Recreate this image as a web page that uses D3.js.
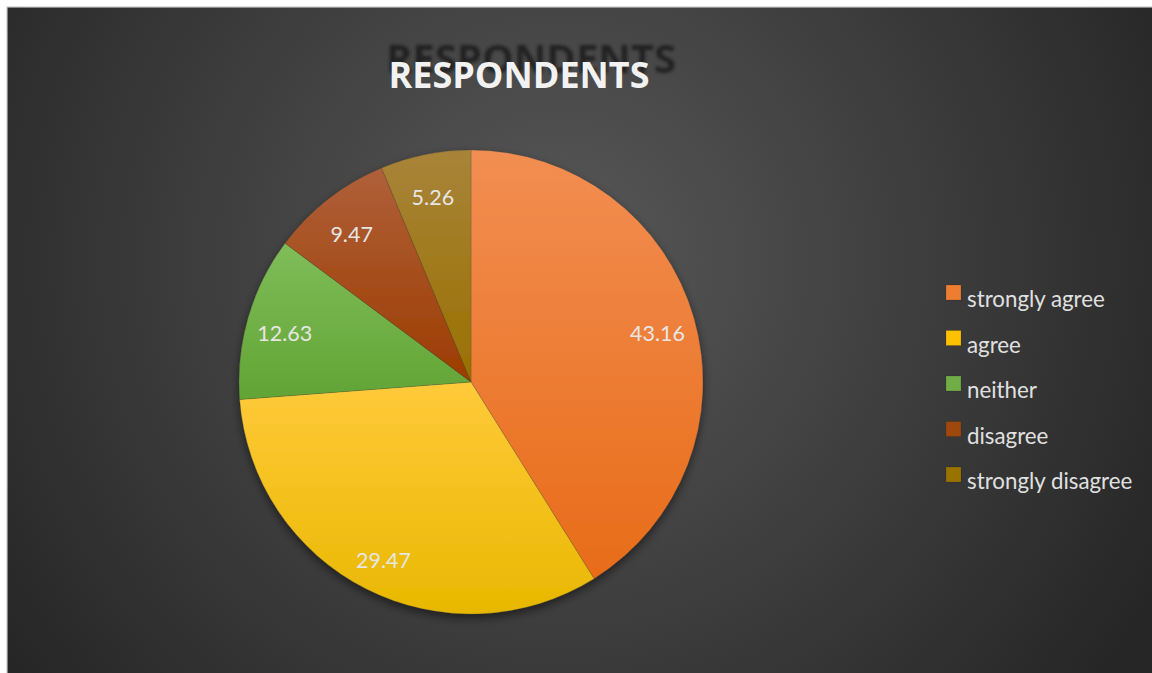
<!DOCTYPE html>
<html><head><meta charset="utf-8">
<script src="https://cdn.jsdelivr.net/npm/d3@7"></script>
<style>html,body{margin:0;padding:0;background:#fff;overflow:hidden}</style>
</head><body>
<svg id="c" width="1152" height="673"></svg>
<script>
const categories = ["strongly agree", "agree", "neither", "disagree", "strongly disagree"];
// slice sizes (percent of circle)
const values = [41.1, 32.7, 11.4, 8.5, 6.3];
// data-label texts shown in the reference
const labels = ["43.16", "29.47", "12.63", "9.47", "5.26"];
const colorsTop = ["#f28e52", "#ffca3a", "#7fbd58", "#b0603a", "#a8843a"];
const colorsBottom = ["#e86c18", "#e8b800", "#62a435", "#9c3c00", "#9a7000"];
const legendColors = ["#ed7d31", "#ffc000", "#70ad47", "#9e480e", "#997300"];

const svg = d3.select("#c");
const defs = svg.append("defs");
const bg = defs.append("radialGradient").attr("id", "bg")
  .attr("gradientUnits", "userSpaceOnUse").attr("cx", 560).attr("cy", 260).attr("r", 680);
bg.append("stop").attr("offset", 0).attr("stop-color", "#585858");
bg.append("stop").attr("offset", 1).attr("stop-color", "#262626");

const sh = defs.append("filter").attr("id", "sh").attr("x", "-20%").attr("y", "-20%").attr("width", "140%").attr("height", "140%");
sh.append("feDropShadow").attr("dx", 0).attr("dy", 4).attr("stdDeviation", 5).attr("flood-color", "#000").attr("flood-opacity", 0.5);
const blur = defs.append("filter").attr("id", "blur");
blur.append("feGaussianBlur").attr("stdDeviation", 1.6);

svg.append("rect").attr("x", 7).attr("y", 7).attr("width", 1160).attr("height", 680)
  .attr("fill", "url(#bg)").attr("stroke", "#c8c8c8").attr("stroke-width", 1.2);

// title with reflection shadow
svg.append("text").attr("x", 531).attr("y", 73).attr("text-anchor", "middle")
  .attr("font-family", "Open Sans, Lato, sans-serif").attr("font-weight", 700).attr("font-size", 40)
  .attr("fill", "#151515").attr("opacity", 0.75).attr("filter", "url(#blur)").text("RESPONDENTS");
svg.append("text").attr("x", 519).attr("y", 88).attr("text-anchor", "middle")
  .attr("font-family", "Open Sans, Lato, sans-serif").attr("font-weight", 700).attr("font-size", 36)
  .attr("fill", "#f2f2f2").text("RESPONDENTS");

const cx = 471, cy = 382, R = 232;
const pie = d3.pie().sort(null).value(d => d);
const arcs = pie(values);
const arc = d3.arc().innerRadius(0).outerRadius(R);
const labelArc = d3.arc().innerRadius(194).outerRadius(194);

arcs.forEach((a, i) => {
  const g = defs.append("linearGradient").attr("id", "g" + i).attr("x1", 0).attr("y1", 0).attr("x2", 0).attr("y2", 1);
  g.append("stop").attr("offset", 0).attr("stop-color", colorsTop[i]);
  g.append("stop").attr("offset", 1).attr("stop-color", colorsBottom[i]);
});

const gp = svg.append("g").attr("transform", `translate(${cx},${cy})`);
const shadowG = gp.append("g").attr("filter", "url(#sh)");
shadowG.selectAll("path").data(arcs).join("path")
  .attr("d", arc).attr("fill", (d, i) => `url(#g${i})`)
  .attr("stroke", "rgba(60,60,60,0.35)").attr("stroke-width", 0.6);

gp.selectAll("text.lbl").data(arcs).join("text").attr("class", "lbl")
  .attr("transform", d => `translate(${labelArc.centroid(d)})`)
  .attr("text-anchor", "middle").attr("dominant-baseline", "central").attr("dy", 5)
  .attr("font-family", "Lato, Open Sans, sans-serif").attr("font-size", 21.5)
  .attr("fill", "#e6e6e6").text((d, i) => labels[i]);

const lg = svg.append("g");
const rows = lg.selectAll("g").data(categories).join("g")
  .attr("transform", (d, i) => `translate(946, ${285 + i * 45.5})`);
rows.append("rect").attr("width", 15).attr("height", 15)
  .attr("fill", (d, i) => legendColors[i]).attr("stroke", "rgba(0,0,0,0.25)").attr("stroke-width", 0.5);
rows.append("text").attr("x", 21).attr("y", 22)
  .attr("font-family", "Lato, Open Sans, sans-serif").attr("font-size", 22.3)
  .attr("fill", "#e0e0e0").text(d => d);
</script>
</body></html>
